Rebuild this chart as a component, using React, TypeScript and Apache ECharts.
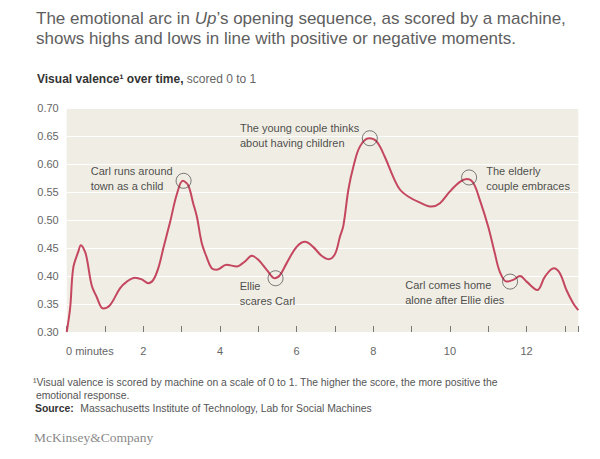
import React, { useEffect, useRef } from "react";
import * as echarts from "echarts";

const minutes = [0, 0.09, 0.17, 0.3, 0.37, 0.48, 0.54, 0.65, 0.78, 0.95, 1.13, 1.39, 1.57, 1.78, 1.96, 2.13, 2.26, 2.39, 2.52, 2.7, 2.87, 3.03, 3.17, 3.3, 3.4, 3.52, 3.65, 3.78, 3.91, 4.17, 4.44, 4.65, 4.83, 5.0, 5.22, 5.43, 5.57, 5.74, 6.0, 6.22, 6.43, 6.65, 6.83, 7.0, 7.13, 7.22, 7.35, 7.48, 7.65, 7.89, 8.09, 8.3, 8.52, 8.7, 8.91, 9.22, 9.52, 9.74, 10.0, 10.26, 10.44, 10.61, 10.78, 11.0, 11.17, 11.3, 11.48, 11.65, 11.83, 12.0, 12.28, 12.48, 12.71, 12.87, 13.04, 13.22, 13.35];
const valence = [0.3, 0.343, 0.414, 0.443, 0.455, 0.443, 0.426, 0.384, 0.363, 0.342, 0.348, 0.378, 0.39, 0.397, 0.394, 0.387, 0.393, 0.414, 0.449, 0.497, 0.545, 0.57, 0.562, 0.53, 0.505, 0.46, 0.434, 0.414, 0.411, 0.42, 0.417, 0.426, 0.436, 0.429, 0.411, 0.396, 0.402, 0.423, 0.452, 0.461, 0.452, 0.436, 0.43, 0.439, 0.47, 0.49, 0.554, 0.595, 0.631, 0.646, 0.64, 0.613, 0.577, 0.554, 0.542, 0.531, 0.524, 0.53, 0.551, 0.568, 0.573, 0.566, 0.536, 0.488, 0.441, 0.408, 0.39, 0.393, 0.4, 0.39, 0.375, 0.399, 0.414, 0.405, 0.375, 0.351, 0.339];

const annotMinutes = [3.05, 5.45, 7.91, 10.5, 11.57];
const annotValues = [0.57, 0.396, 0.646, 0.576, 0.39];
const annotTexts = [
  "Carl runs around\ntown as a child",
  "Ellie\nscares Carl",
  "The young couple thinks\nabout having children",
  "The elderly\ncouple embraces",
  "Carl comes home\nalone after Ellie dies",
];

const yTicks = [0.3, 0.35, 0.4, 0.45, 0.5, 0.55, 0.6, 0.65, 0.7];
const xLabelEvery = 2;

const titleLines = [
  "The emotional arc in {i|Up}’s opening sequence, as scored by a machine,",
  "shows highs and lows in line with positive or negative moments.",
];

// label offsets relative to circle box (layout only)
const annotLabelPos: [number, number][] = [
  [-85, -9],
  [-28, 8],
  [-122, -10],
  [25, -6],
  [-97, 4],
];

const FONT = "'Liberation Sans', Arial, Helvetica, sans-serif";

export default function App() {
  const ref = useRef<HTMLDivElement>(null);
  useEffect(() => {
    const chart = echarts.init(ref.current!, null, { renderer: "svg" });
    const lineData = minutes.map((m, i) => [m, valence[i]]);
    const annotData = annotMinutes.map((m, i) => ({
      value: [m, annotValues[i]],
      label: {
        show: true,
        formatter: annotTexts[i],
        position: annotLabelPos[i],
        align: "left",
        verticalAlign: "top",
      },
    }));
    chart.setOption({
      animation: false,
      backgroundColor: "#ffffff",
      textStyle: { fontFamily: FONT },
      grid: {
        left: 66.7,
        right: 21.7,
        top: 108,
        bottom: 127,
        show: true,
        backgroundColor: "#efede4",
        borderWidth: 0,
      },
      xAxis: {
        type: "value",
        min: 0,
        max: 13.35,
        interval: 1,
        axisLine: { show: false },
        axisTick: { show: true, inside: true, length: 6, lineStyle: { color: "#777", width: 1 } },
        splitLine: { show: false },
        axisLabel: {
          color: "#666",
          fontSize: 11,
          margin: 13,
          fontFamily: FONT,
          formatter: (v: number) => (v > 0 && Math.abs(v % xLabelEvery) < 1e-6 ? String(v) : ""),
        },
      },
      yAxis: {
        type: "value",
        min: yTicks[0],
        max: yTicks[yTicks.length - 1],
        interval: 0.05,
        axisLine: { show: false },
        axisTick: { show: false },
        splitLine: { show: true, lineStyle: { color: "#ffffff", width: 1 } },
        axisLabel: {
          color: "#666",
          fontSize: 11,
          margin: 8,
          fontFamily: FONT,
          formatter: (v: number) => v.toFixed(2),
        },
      },
      series: [
        {
          type: "line",
          data: lineData,
          smooth: 0.35,
          showSymbol: false,
          lineStyle: { color: "#c4475f", width: 2 },
          z: 2,
        },
        {
          type: "scatter",
          data: annotData,
          symbol: "circle",
          symbolSize: 15,
          itemStyle: { color: "rgba(0,0,0,0)", borderColor: "#333", borderWidth: 0.8 },
          label: {
            color: "#222",
            fontSize: 11,
            lineHeight: 15,
            fontFamily: FONT,
          },
          z: 3,
        },
      ],
      graphic: [
        {
          type: "text",
          left: 36,
          top: 10,
          style: {
            text: titleLines[0],
            fill: "#5e5e5e",
            font: `17px ${FONT}`,
            rich: { i: { fontStyle: "italic", fontSize: 17, fill: "#5e5e5e", fontFamily: FONT } },
          },
        },
        {
          type: "text",
          left: 36,
          top: 29.5,
          style: { text: titleLines[1], fill: "#5e5e5e", font: `17px ${FONT}` },
        },
        {
          type: "text",
          left: 37,
          top: 73,
          style: {
            text: "{b|Visual valence¹ over time,} {n|scored 0 to 1}",
            rich: {
              b: { fontWeight: "bold", fontSize: 12, fill: "#333", fontFamily: FONT },
              n: { fontSize: 12, fill: "#666", fontFamily: FONT },
            },
          },
        },
        {
          type: "text",
          left: 66,
          top: 345,
          style: { text: "0 minutes", fill: "#666", font: `11px ${FONT}` },
        },
        {
          type: "text",
          left: 33,
          top: 376,
          style: {
            text: "¹Visual valence is scored by machine on a scale of 0 to 1. The higher the score, the more positive the\n emotional response.",
            fill: "#555",
            font: `10.4px ${FONT}`,
            lineHeight: 13,
          },
        },
        {
          type: "text",
          left: 35,
          top: 402,
          style: {
            text: "{b|Source:}  {n|Massachusetts Institute of Technology, Lab for Social Machines}",
            rich: {
              b: { fontWeight: "bold", fontSize: 10.4, fill: "#333", fontFamily: FONT },
              n: { fontSize: 10.4, fill: "#555", fontFamily: FONT },
            },
          },
        },
        {
          type: "text",
          left: 34,
          top: 430,
          style: {
            text: "McKinsey&Company",
            fill: "#8a8a8a",
            font: `13.5px 'Liberation Serif', 'Times New Roman', serif`,
          },
        },
      ],
    });
    return () => chart.dispose();
  }, []);
  return (
    <div
      ref={ref}
      style={{ position: "absolute", left: 0, top: 0, width: 600, height: 459 }}
    />
  );
}
